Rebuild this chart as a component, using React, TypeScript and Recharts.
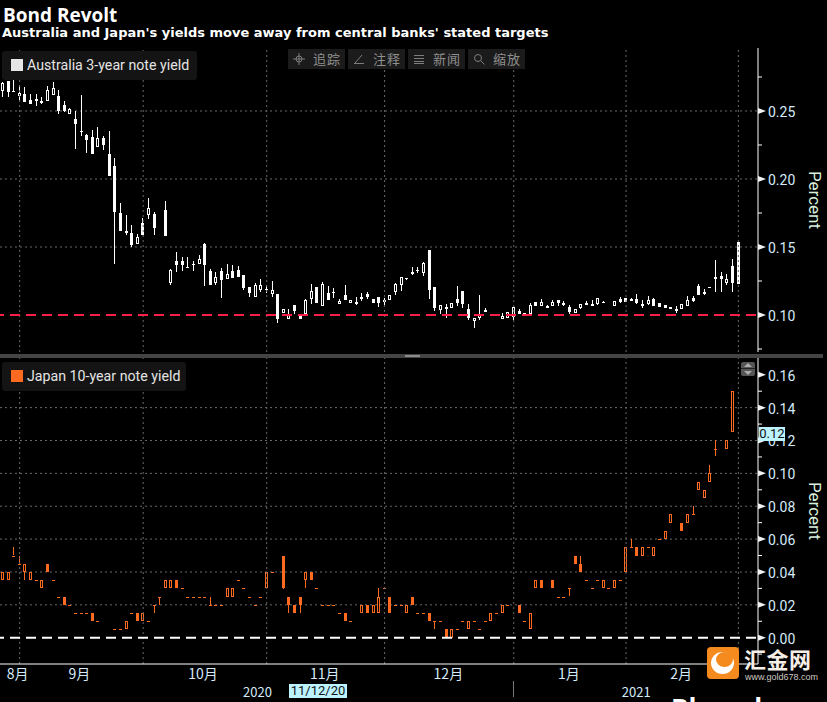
import {
  Bar,
  CartesianGrid,
  ComposedChart,
  ReferenceLine,
  XAxis,
  YAxis,
} from "recharts";

const n = null;

// Australia 3-year note yield, one value per session slot
const ausOpen = [
  0.2649, 0.272, 0.2644, 0.261, 0.2624, 0.258, 0.2588, 0.2573, 0.2575, 0.2619,
  0.261, 0.2544, 0.248, 0.2441, 0.235, 0.2323, 0.2308, 0.2235, 0.2301, 0.2183,
  0.2095, 0.175, 0.1617, 0.1603, 0.1522, 0.1676, 0.1735, 0.1742, n, 0.1772,
  0.1235, 0.1397, 0.1397, 0.1353, 0.1375, 0.1375, 0.1522, 0.1323, 0.1235, 0.1323,
  0.1265, 0.1323, 0.1331, 0.1294, 0.1206, 0.1132, 0.1184, 0.1189, 0.1154, 0.1154,
  0.1015, 0.0971, 0.1074, 0.1007, 0.1007, 0.1118, 0.1206, 0.1066, 0.1162, 0.1169,
  0.1081, 0.1147, 0.1088, 0.1096, 0.1132, 0.1154, 0.1118, 0.1132, 0.111, 0.111,
  0.1169, 0.1221, 0.127, 0.1316, 0.1331, 0.1309, 0.1478, 0.1206, 0.1037, 0.1059,
  0.1051, 0.1118, 0.1176, 0.1044, 0.0956, 0.0978, 0.1037, n, n, 0.0971,
  0.0978, 0.0985, 0.1029, 0.0993, 0.1007, 0.1096, 0.1066, 0.1066, 0.1066, 0.111,
  0.1088, 0.1059, 0.1015, 0.1051, 0.1088, 0.1081, 0.1081, 0.1093, n, 0.1066,
  0.1118, 0.1125, 0.1118, 0.1118, 0.1081, 0.1081, 0.1118, 0.1088, 0.1074, 0.1059,
  0.1044, 0.1044, 0.1066, 0.1125, 0.1213, 0.1169, 0.1208, 0.1279, 0.1287, 0.1235,
  0.136, 0.1537,
];
const ausClose = [
  0.2703, 0.2639, 0.2644, 0.2629, 0.2566, 0.2551, 0.2575, 0.2561, 0.2654, 0.2668,
  0.2499, 0.2499, 0.2512, 0.2404, 0.235, 0.2286, 0.2183, 0.2301, 0.225, 0.2022,
  0.1757, 0.1617, 0.1603, 0.1515, 0.1573, 0.1588, 0.1786, 0.1639, n, 0.1581,
  0.1331, 0.1368, 0.1368, 0.1353, 0.1375, 0.1412, 0.1368, 0.1221, 0.1279, 0.1257,
  0.1301, 0.1272, 0.1279, 0.1198, 0.1162, 0.1221, 0.1221, 0.1189, 0.1184, 0.0971,
  0.1044, 0.1, 0.1029, 0.0971, 0.111, 0.1176, 0.1088, 0.1228, 0.111, 0.1169,
  0.1103, 0.111, 0.111, 0.1081, 0.1118, 0.1132, 0.1088, 0.1088, 0.1096, 0.1147,
  0.1228, 0.1279, 0.127, 0.1301, 0.1331, 0.1382, 0.1184, 0.1051, 0.1074, 0.1044,
  0.1088, 0.1088, 0.1081, 0.0978, 0.0978, 0.1007, 0.1022, n, n, 0.0993,
  0.1022, 0.1059, 0.1007, 0.1015, 0.1074, 0.1066, 0.1096, 0.1051, 0.1096, 0.1088,
  0.1074, 0.1022, 0.1044, 0.1081, 0.1074, 0.1066, 0.1125, 0.1093, n, 0.1103,
  0.1096, 0.1096, 0.1103, 0.1088, 0.1066, 0.111, 0.1066, 0.1059, 0.1051, 0.1044,
  0.1029, 0.1081, 0.111, 0.1103, 0.1147, 0.1154, 0.1208, 0.1265, 0.1265, 0.1265,
  0.1235, 0.1228,
];
const ausHigh = [
  0.2713, 0.272, 0.2727, 0.2693, 0.2673, 0.2624, 0.2624, 0.26, 0.2683, 0.2713,
  0.2654, 0.257, 0.2521, 0.2499, 0.2617, 0.233, 0.236, 0.2382, 0.2316, 0.2352,
  0.2154, 0.1823, 0.1735, 0.1662, 0.1595, 0.1713, 0.186, 0.1757, n, 0.1838,
  0.1338, 0.1463, 0.1426, 0.1426, 0.1397, 0.1441, 0.1529, 0.1338, 0.1316, 0.1345,
  0.1375, 0.1368, 0.136, 0.1294, 0.1206, 0.1235, 0.1265, 0.1221, 0.125, 0.1154,
  0.1044, 0.1044, 0.1074, 0.1007, 0.1118, 0.1228, 0.1206, 0.1243, 0.1213, 0.1198,
  0.1118, 0.1221, 0.111, 0.1132, 0.1162, 0.1169, 0.1118, 0.1132, 0.1125, 0.1147,
  0.1235, 0.1279, 0.127, 0.1353, 0.1353, 0.139, 0.1478, 0.1206, 0.1074, 0.1081,
  0.1088, 0.1213, 0.1176, 0.1081, 0.0978, 0.1147, 0.1051, n, n, 0.1012,
  0.1022, 0.1059, 0.1044, 0.1015, 0.1088, 0.1096, 0.1118, 0.1074, 0.111, 0.111,
  0.1103, 0.1074, 0.1044, 0.1081, 0.1103, 0.111, 0.1125, 0.1103, n, 0.1103,
  0.1132, 0.1125, 0.1125, 0.1154, 0.111, 0.114, 0.1125, 0.1088, 0.1074, 0.1059,
  0.1066, 0.1081, 0.114, 0.114, 0.1228, 0.1191, 0.1208, 0.1404, 0.1316, 0.1301,
  0.1412, 0.1537,
];
const ausLow = [
  0.2605, 0.2605, 0.2639, 0.258, 0.2566, 0.2551, 0.2536, 0.2551, 0.2575, 0.2619,
  0.2477, 0.249, 0.248, 0.222, 0.2318, 0.2191, 0.2183, 0.2235, 0.2213, 0.2022,
  0.1375, 0.1617, 0.1588, 0.15, 0.1522, 0.1588, 0.1706, 0.1588, n, 0.1581,
  0.1221, 0.1316, 0.1323, 0.1345, 0.1323, 0.1375, 0.1213, 0.1221, 0.1221, 0.1125,
  0.1265, 0.1272, 0.1279, 0.1184, 0.1132, 0.1132, 0.1169, 0.1162, 0.1132, 0.0941,
  0.1015, 0.0971, 0.1007, 0.0971, 0.1007, 0.1081, 0.1088, 0.1066, 0.111, 0.1125,
  0.1081, 0.111, 0.1088, 0.1074, 0.1103, 0.1118, 0.1088, 0.1059, 0.1074, 0.111,
  0.1147, 0.1176, 0.1257, 0.1294, 0.1309, 0.1287, 0.1118, 0.1029, 0.1007, 0.0978,
  0.1051, 0.1066, 0.1051, 0.0963, 0.0904, 0.0963, 0.1022, n, n, 0.0971,
  0.0978, 0.0963, 0.1007, 0.0993, 0.1007, 0.1066, 0.1066, 0.1051, 0.1066, 0.1066,
  0.1066, 0.1007, 0.1015, 0.1044, 0.1074, 0.1066, 0.1074, 0.1093, n, 0.1066,
  0.1088, 0.1096, 0.1103, 0.1081, 0.1051, 0.1074, 0.1066, 0.1059, 0.1051, 0.1044,
  0.1015, 0.1044, 0.1066, 0.1096, 0.1147, 0.1147, 0.1208, 0.1169, 0.1169, 0.1221,
  0.1169, 0.1228,
];

// Japan 10-year note yield
const jpnOpen = [
  0.035, 0.035, 0.05, 0.045, 0.04, 0.035, 0.035, 0.03, 0.045, 0.035,
  0.025, 0.025, 0.02, 0.015, 0.015, 0.015, 0.015, 0.01, n, n,
  0.005, 0.005, 0.005, 0.015, 0.015, 0.01, 0.01, 0.02, 0.025, 0.03,
  0.03, 0.035, 0.03, 0.025, 0.025, 0.025, 0.025, 0.02, 0.02, 0.02,
  0.025, 0.025, 0.035, 0.03, 0.025, 0.02, 0.025, 0.03, 0.04, n,
  0.05, 0.025, 0.02, 0.025, 0.035, 0.04, 0.03, 0.02, 0.02, 0.02,
  0.015, 0.015, 0.01, n, 0.015, 0.02, 0.015, 0.015, 0.03, 0.025,
  0.02, 0.02, 0.015, 0.025, 0.015, 0.015, 0.015, 0.01, 0.01, 0.005,
  0, 0.005, 0.01, 0.005, 0.01, 0.005, 0.01, 0.01, 0.015, 0.015,
  0.02, n, 0.02, 0.01, 0.005, 0.03, 0.035, n, 0.035, 0.025,
  0.025, 0.03, 0.05, 0.045, 0.035, 0.03, 0.035, 0.03, 0.03, 0.03,
  0.035, 0.04, 0.055, 0.055, 0.05, 0.055, 0.05, 0.06, 0.06, 0.07,
  n, 0.07, 0.07, 0.075, 0.09, 0.085, 0.095, 0.115, n, 0.115,
  0.125, n,
];
const jpnClose = [
  0.04, 0.04, 0.05, 0.045, 0.045, 0.04, 0.035, 0.035, 0.04, 0.035,
  0.025, 0.02, 0.02, 0.015, 0.015, 0.015, 0.01, 0.01, n, n,
  0.005, 0.005, 0.01, 0.015, 0.01, 0.015, 0.01, 0.02, 0.025, 0.035,
  0.035, 0.03, 0.03, 0.025, 0.025, 0.025, 0.025, 0.02, 0.02, 0.02,
  0.03, 0.03, 0.035, 0.03, 0.025, 0.02, 0.025, 0.04, 0.04, n,
  0.03, 0.02, 0.015, 0.02, 0.04, 0.035, 0.03, 0.02, 0.02, 0.02,
  0.015, 0.01, 0.01, n, 0.02, 0.015, 0.02, 0.025, 0.03, 0.015,
  0.02, 0.02, 0.02, 0.02, 0.015, 0.015, 0.01, 0.01, 0.01, 0,
  0.005, 0.005, 0.01, 0.01, 0.01, 0.005, 0.01, 0.015, 0.015, 0.02,
  0.02, n, 0.015, 0.01, 0.015, 0.035, 0.03, n, 0.03, 0.025,
  0.025, 0.03, 0.045, 0.04, 0.035, 0.03, 0.035, 0.035, 0.03, 0.035,
  0.035, 0.055, 0.055, 0.05, 0.055, 0.055, 0.055, 0.06, 0.065, 0.075,
  n, 0.065, 0.075, 0.075, 0.095, 0.09, 0.1, 0.115, n, 0.12,
  0.15, n,
];
const jpnHigh = [
  0.04, 0.04, 0.055, 0.05, 0.045, 0.04, 0.035, 0.035, 0.045, 0.035,
  0.025, 0.025, 0.02, 0.015, 0.015, 0.015, 0.015, 0.01, n, n,
  0.005, 0.005, 0.01, 0.015, 0.015, 0.015, 0.01, 0.02, 0.025, 0.035,
  0.035, 0.035, 0.03, 0.025, 0.025, 0.025, 0.025, 0.025, 0.02, 0.02,
  0.03, 0.03, 0.035, 0.03, 0.025, 0.02, 0.025, 0.04, 0.04, n,
  0.05, 0.025, 0.02, 0.025, 0.04, 0.04, 0.03, 0.02, 0.02, 0.02,
  0.015, 0.015, 0.01, n, 0.02, 0.02, 0.02, 0.03, 0.03, 0.025,
  0.02, 0.02, 0.02, 0.025, 0.015, 0.015, 0.015, 0.01, 0.01, 0.005,
  0.005, 0.005, 0.01, 0.01, 0.01, 0.005, 0.01, 0.015, 0.015, 0.02,
  0.02, n, 0.02, 0.01, 0.015, 0.035, 0.035, n, 0.035, 0.025,
  0.025, 0.03, 0.05, 0.05, 0.035, 0.03, 0.035, 0.035, 0.03, 0.035,
  0.035, 0.055, 0.06, 0.055, 0.055, 0.055, 0.055, 0.06, 0.065, 0.075,
  n, 0.07, 0.075, 0.08, 0.095, 0.09, 0.105, 0.12, n, 0.12,
  0.15, n,
];
const jpnLow = [
  0.035, 0.035, 0.05, 0.045, 0.035, 0.035, 0.035, 0.03, 0.04, 0.035,
  0.025, 0.02, 0.02, 0.015, 0.015, 0.015, 0.01, 0.01, n, n,
  0.005, 0.005, 0.005, 0.015, 0.01, 0.01, 0.01, 0.015, 0.02, 0.03,
  0.03, 0.03, 0.03, 0.025, 0.025, 0.025, 0.025, 0.02, 0.02, 0.02,
  0.025, 0.025, 0.035, 0.03, 0.025, 0.02, 0.025, 0.03, 0.04, n,
  0.03, 0.015, 0.015, 0.015, 0.03, 0.035, 0.03, 0.02, 0.02, 0.02,
  0.015, 0.01, 0.01, n, 0.015, 0.015, 0.015, 0.015, 0.03, 0.015,
  0.02, 0.02, 0.015, 0.02, 0.015, 0.015, 0.01, 0.005, 0.01, 0,
  0, 0.005, 0.01, 0.005, 0.01, 0.005, 0.01, 0.01, 0.015, 0.015,
  0.02, n, 0.015, 0.01, 0.005, 0.03, 0.03, n, 0.03, 0.025,
  0.025, 0.025, 0.045, 0.04, 0.035, 0.03, 0.035, 0.03, 0.03, 0.03,
  0.035, 0.04, 0.055, 0.05, 0.05, 0.055, 0.05, 0.06, 0.06, 0.07,
  n, 0.065, 0.07, 0.075, 0.09, 0.085, 0.095, 0.11, n, 0.115,
  0.125, n,
];

const SLOT_COUNT = 135;

// slots where a new month starts
const monthStarts = [3, 25, 47, 68, 91, 111, 131];
const axisTickSlots = [25, 47, 68, 91, 111];
const monthSlots = [3, 14, 36, 57, 79, 101, 121];
const monthNames = ["8月", "9月", "10月", "11月", "12月", "1月", "2月"];
const yearSlots = [45, 113];
const yearNames = ["2020", "2021"];

const ausTicks = [0.075, 0.1, 0.125, 0.15, 0.175, 0.2, 0.225, 0.25, 0.275];
const ausLabelled = [0.1, 0.15, 0.2, 0.25];
const ausGridLines = [0.15, 0.2, 0.25];
const jpnTicks = [
  -0.01, 0, 0.01, 0.02, 0.03, 0.04, 0.05, 0.06, 0.07, 0.08, 0.09, 0.1, 0.11, 0.12,
  0.13, 0.14, 0.15, 0.16,
];
const jpnLabelled = [0, 0.02, 0.04, 0.06, 0.08, 0.1, 0.12, 0.14, 0.16];
const jpnGridLines = [0.02, 0.04, 0.06, 0.08, 0.1, 0.12, 0.14];

const AUS_COLOR = "#ffffff";
const JPN_COLOR = "#ff6a21";
const TEXT_COLOR = "#d5ebfa";
const GRID_COLOR = "#6a6a6a";
const TICK_FONT = "Roboto, sans-serif";
const CJK_FONT = "'Noto Sans CJK SC', sans-serif";

type Row = {
  slot: number;
  open: number | null;
  close: number | null;
  high: number | null;
  low: number | null;
  range: [number, number] | null;
};

function buildRows(open: any[], close: any[], high: any[], low: any[]): Row[] {
  const rows: Row[] = [];
  for (let i = 0; i < SLOT_COUNT; i++) {
    const hasValue = open[i] !== null && open[i] !== undefined;
    rows.push({
      slot: i,
      open: hasValue ? open[i] : null,
      close: hasValue ? close[i] : null,
      high: hasValue ? high[i] : null,
      low: hasValue ? low[i] : null,
      range: hasValue ? [low[i], high[i]] : null,
    });
  }
  return rows;
}

const ausRows = buildRows(ausOpen, ausClose, ausHigh, ausLow);
const jpnRows = buildRows(jpnOpen, jpnClose, jpnHigh, jpnLow);

function Candle(props: any) {
  const { x, y, width, height, payload, color } = props;
  if (!payload || payload.open === null || !Number.isFinite(y)) return null;
  const { open, close, high, low } = payload;
  const spread = high - low;
  const perUnit = spread > 0 ? height / spread : 0;
  const left = Math.floor(x + width / 2 - 1.5 + 0.5);
  const wickX = left + 1;
  const top = Math.round(y + (high - Math.max(open, close)) * perUnit);
  const bottom = Math.round(y + (high - Math.min(open, close)) * perUnit);
  const isHollow = close > open;
  const flat = open === close;
  return (
    <g>
      {spread > 0 && (
        <rect x={wickX} y={Math.round(y)} width={1} height={Math.max(1, Math.round(height))} fill={color} />
      )}
      {flat ? (
        <rect x={left} y={top} width={3} height={1} fill={color} />
      ) : isHollow ? (
        <rect x={left + 0.5} y={top + 0.5} width={2} height={Math.max(1, bottom - top - 1)} fill="#000" stroke={color} strokeWidth={1} />
      ) : (
        <rect x={left} y={top} width={3} height={Math.max(1, bottom - top)} fill={color} />
      )}
    </g>
  );
}

function PriceTick(props: any) {
  const { x, y, payload, labelled } = props;
  const axisX = x;
  const isMajor = labelled.includes(payload.value);
  if (!isMajor) {
    return <line x1={axisX} x2={axisX + 4} y1={y} y2={y} stroke="#fff" />;
  }
  return (
    <g>
      <polygon points={`${axisX},${y - 3} ${axisX + 8},${y} ${axisX},${y + 3}`} fill="#f2f2f2" />
      <text x={axisX + 10} y={y + 6} fill={TEXT_COLOR} fontSize={14} fontFamily={TICK_FONT}>
        {payload.value.toFixed(2)}
      </text>
    </g>
  );
}

function NamedTick(props: any) {
  const { x, y, payload, slots, names, fontSize, shifts } = props;
  const i = slots.indexOf(payload.value);
  return (
    <text x={x + shifts[i]} y={y + 12} textAnchor="middle" fill={TEXT_COLOR} fontSize={fontSize} fontFamily={CJK_FONT}>
      {names[i]}
    </text>
  );
}

function PriceChart(props: any) {
  const { rows, color, domain, ticks, labelled, gridLines, height, targetY, targetColor, showAxis, top } = props;
  return (
    <div style={{ position: "absolute", left: 0, top }}>
      <ComposedChart
        width={827}
        height={height}
        data={rows}
        margin={{ top: 0, right: 0, bottom: 0, left: 0 }}
        barCategoryGap={0}
      >
        <CartesianGrid
          horizontalValues={gridLines}
          vertical={false}
          stroke={GRID_COLOR}
          strokeDasharray="2 3"
        />
        {showAxis ? (
          <XAxis
            dataKey="slot"
            xAxisId="main"
            height={1}
            ticks={axisTickSlots}
            interval={0}
            tick={false}
            tickSize={4}
            stroke="#fff"
            axisLine={{ stroke: "#fff" }}
            tickLine={{ stroke: "#fff" }}
          />
        ) : (
          <XAxis dataKey="slot" xAxisId="main" hide />
        )}
        {showAxis && (
          <XAxis
            dataKey="slot"
            xAxisId="months"
            height={18}
            ticks={monthSlots}
            interval={0}
            axisLine={false}
            tickLine={false}
            tickSize={0}
            tick={<NamedTick slots={monthSlots} names={monthNames} fontSize={14} shifts={[-2, -2, -2, 2, 2, -1, -1]} />}
          />
        )}
        {showAxis && (
          <XAxis
            dataKey="slot"
            xAxisId="years"
            height={19}
            ticks={yearSlots}
            interval={0}
            axisLine={false}
            tickLine={false}
            tickSize={0}
            tick={<NamedTick slots={yearSlots} names={yearNames} fontSize={13} shifts={[2, -1]} />}
          />
        )}
        <YAxis
          orientation="right"
          width={69}
          type="number"
          domain={domain}
          ticks={ticks}
          interval={0}
          allowDataOverflow
          tickSize={0}
          tickMargin={0}
          axisLine={{ stroke: "#fff" }}
          tickLine={false}
          tick={<PriceTick labelled={labelled} />}
          label={{
            value: "Percent",
            angle: 90,
            position: "insideRight",
            dx: -7,
            textAnchor: "middle",
            fill: "#d9efdc",
            fontSize: 17,
            fontFamily: TICK_FONT,
          }}
        />
        {monthStarts.map((slot) => (
          <ReferenceLine
            key={slot}
            x={slot}
            xAxisId="main"
            stroke={GRID_COLOR}
            strokeDasharray="2 3"
          />
        ))}
        <Bar
          dataKey="range"
          xAxisId="main"
          barSize={3}
          isAnimationActive={false}
          shape={(p: any) => <Candle {...p} color={color} />}
        />
        <ReferenceLine
          y={targetY}
          xAxisId="main"
          stroke={targetColor}
          strokeWidth={2}
          strokeDasharray="10 6"
          strokeDashoffset={-2}
        />
      </ComposedChart>
    </div>
  );
}

const toolLabels = ["追踪", "注释", "新闻", "缩放"];
const toolLefts = [288, 348, 408, 468];

function ToolIcon({ kind }: { kind: number }) {
  const stroke = "#7d7d7d";
  return (
    <svg width={12} height={12} style={{ position: "absolute", left: 5, top: 4 }}>
      {kind === 0 && (
        <g fill="none" stroke={stroke}>
          <circle cx={6} cy={6} r={3} />
          <path d="M6 0V12M0 6H12" />
        </g>
      )}
      {kind === 1 && (
        <g fill="none" stroke={stroke}>
          <path d="M1 10.5H11M2 10L9 2" />
        </g>
      )}
      {kind === 2 && (
        <g fill="none" stroke={stroke}>
          <path d="M1 2.5H11M1 5.5H11M1 8.5H11M1 10.5H11" />
        </g>
      )}
      {kind === 3 && (
        <g fill="none" stroke={stroke}>
          <circle cx={5} cy={5} r={3.5} />
          <path d="M8 8L11.5 11.5" />
        </g>
      )}
    </svg>
  );
}

function LegendBox(props: any) {
  const { top, width, color, label } = props;
  return (
    <div
      style={{
        position: "absolute",
        left: 2,
        top,
        width,
        height: 29,
        background: "#141414",
        borderRadius: 3,
        color: "#e4e4e4",
        fontFamily: TICK_FONT,
        fontSize: 14.2,
        lineHeight: "29px",
      }}
    >
      <span
        style={{
          position: "absolute",
          left: 9,
          top: 8,
          width: 12,
          height: 12,
          background: color,
        }}
      />
      <span style={{ position: "absolute", left: 25, whiteSpace: "nowrap" }}>{label}</span>
    </div>
  );
}

export default function App() {
  return (
    <div
      style={{
        position: "fixed",
        left: 0,
        top: 0,
        width: 827,
        height: 702,
        overflow: "hidden",
        background: "#000",
      }}
    >
      <div
        style={{
          position: "absolute",
          left: 3,
          top: 3,
          color: "#fff",
          fontFamily: "'Open Sans', sans-serif",
          fontWeight: 700,
          fontSize: 19,
          lineHeight: "24px",
        }}
      >
        Bond Revolt
      </div>
      <div
        style={{
          position: "absolute",
          left: 2,
          top: 25,
          color: "#fff",
          fontFamily: "'DejaVu Sans', sans-serif",
          fontWeight: 700,
          fontSize: 13,
          lineHeight: "16px",
          whiteSpace: "nowrap",
        }}
      >
        Australia and Japan's yields move away from central banks' stated targets
      </div>

      <PriceChart
        rows={ausRows}
        color={AUS_COLOR}
        domain={[0.0728, 0.2963]}
        ticks={ausTicks}
        labelled={ausLabelled}
        gridLines={ausGridLines}
        height={304}
        top={48}
        targetY={0.1}
        targetColor="#ff2046"
      />
      <PriceChart
        rows={jpnRows}
        color={JPN_COLOR}
        domain={[-0.016, 0.1702]}
        ticks={jpnTicks}
        labelled={jpnLabelled}
        gridLines={jpnGridLines}
        height={344}
        top={358}
        targetY={0}
        targetColor="#ffffff"
        showAxis
      />

      {/* pane divider */}
      <div style={{ position: "absolute", left: 0, top: 354, width: 823, height: 4, background: "#444" }} />
      <div style={{ position: "absolute", left: 405, top: 355, width: 15, height: 2, background: "#8a8a8a" }} />
      <div style={{ position: "absolute", left: 741, top: 362, width: 14, height: 14, background: "#555", borderRadius: 2 }}>
        <div style={{ position: "absolute", left: 3, top: 1, borderLeft: "4px solid transparent", borderRight: "4px solid transparent", borderBottom: "4px solid #aaa" }} />
        <div style={{ position: "absolute", left: 0, top: 6, width: 14, height: 1, background: "#222" }} />
        <div style={{ position: "absolute", left: 3, top: 9, borderLeft: "4px solid transparent", borderRight: "4px solid transparent", borderTop: "4px solid #aaa" }} />
      </div>

      <LegendBox top={51} width={195} color="#e6e6e6" label="Australia 3-year note yield" />
      <LegendBox top={362} width={184} color={JPN_COLOR} label="Japan 10-year note yield" />

      {toolLabels.map((label, i) => (
        <div
          key={label}
          style={{
            position: "absolute",
            left: toolLefts[i],
            top: 49,
            width: 57,
            height: 20,
            background: "#1b1b1b",
            color: "#8f8f8f",
            fontFamily: CJK_FONT,
            fontSize: 13,
            lineHeight: "20px",
            whiteSpace: "nowrap",
          }}
        >
          <ToolIcon kind={i} />
          <span style={{ position: "absolute", left: 25, letterSpacing: 1 }}>{label}</span>
        </div>
      ))}

      {/* last value and crosshair date flags */}
      <div
        style={{
          position: "absolute",
          left: 759,
          top: 427,
          width: 26,
          height: 14,
          background: "#bdf3ff",
          color: "#111",
          fontFamily: TICK_FONT,
          fontSize: 13,
          lineHeight: "14px",
          textAlign: "center",
        }}
      >
        0.12
      </div>
      <div
        style={{
          position: "absolute",
          left: 289,
          top: 684,
          width: 58,
          height: 14,
          background: "#bdf3ff",
          color: "#111",
          fontFamily: TICK_FONT,
          fontSize: 13,
          lineHeight: "14px",
          textAlign: "center",
        }}
      >
        11/12/20
      </div>
      <div style={{ position: "absolute", left: 513, top: 681, width: 1, height: 16, background: "#777" }} />

      {/* watermark */}
      <div style={{ position: "absolute", left: 707, top: 647, width: 32, height: 32, background: "#f58a1f", borderRadius: 4 }}>
        <div style={{ position: "absolute", left: 4, top: 5, width: 23, height: 22, borderRadius: "50%", background: "#fff" }} />
        <div style={{ position: "absolute", left: 9, top: 5, width: 17, height: 15, borderRadius: "50%", background: "#f58a1f" }} />
      </div>
      <div
        style={{
          position: "absolute",
          left: 744,
          top: 642,
          color: "#f4eee6",
          fontFamily: CJK_FONT,
          fontWeight: 700,
          fontSize: 22,
          lineHeight: "32px",
          letterSpacing: 0.5,
          whiteSpace: "nowrap",
        }}
      >
        汇金网
      </div>
      <div
        style={{
          position: "absolute",
          left: 745,
          top: 671,
          color: "#cfc9c0",
          fontFamily: "'Liberation Sans', sans-serif",
          fontSize: 9,
          lineHeight: "12px",
          whiteSpace: "nowrap",
        }}
      >
        www.gold678.com
      </div>
      <div
        style={{
          position: "absolute",
          left: 671,
          top: 694,
          color: "#fff",
          fontFamily: "'Open Sans', sans-serif",
          fontWeight: 700,
          fontSize: 26,
          lineHeight: "28px",
          whiteSpace: "nowrap",
        }}
      >
        Bloomberg
      </div>
    </div>
  );
}
